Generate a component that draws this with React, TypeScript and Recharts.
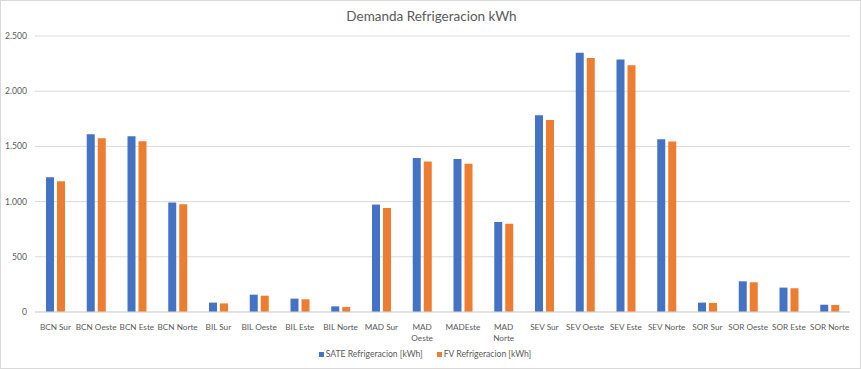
import React from "react";
import { BarChart, Bar, XAxis, YAxis, CartesianGrid, Legend } from "recharts";

const categories = [
  "BCN Sur", "BCN Oeste", "BCN Este", "BCN Norte",
  "BIL Sur", "BIL Oeste", "BIL Este", "BIL Norte",
  "MAD Sur", "MAD Oeste", "MADEste", "MAD Norte",
  "SEV Sur", "SEV Oeste", "SEV Este", "SEV Norte",
  "SOR Sur", "SOR Oeste", "SOR Este", "SOR Norte",
];
const sateValues = [
  1220, 1609, 1591, 991,
  85, 157, 121, 51,
  973, 1394, 1387, 815,
  1782, 2348, 2287, 1564,
  85, 278, 221, 66,
];
const fvValues = [
  1184, 1573, 1546, 975,
  78, 148, 115, 45,
  942, 1364, 1342, 800,
  1739, 2300, 2236, 1545,
  82, 269, 215, 64,
];
const yTicks = [0, 500, 1000, 1500, 2000, 2500];
const wrappedLabels = ["MAD Oeste", "MAD Norte"];

const SATE = "SATE Refrigeracion [kWh]";
const FV = "FV Refrigeracion [kWh]";

const data = categories.map((c, i) => ({ name: c, [SATE]: sateValues[i], [FV]: fvValues[i] }));

const FONT = "Lato, 'Open Sans', sans-serif";
const TXT = "#595959";

const fmt = (v: number) => v.toLocaleString("de-DE");

const XTick = (props: any) => {
  const { x, y, payload } = props;
  const label: string = payload.value;
  const lines = wrappedLabels.includes(label) ? label.split(" ") : [label];
  return (
    <g transform={`translate(${x},${y})`}>
      {lines.map((l, i) => (
        <text key={i} x={0} y={10 + i * 10.7} textAnchor="middle" fill={TXT} fontSize={8.2} fontFamily={FONT}>
          {l}
        </text>
      ))}
    </g>
  );
};

const LegendContent = () => (
  <div style={{ display: "flex", justifyContent: "center", fontFamily: FONT, fontSize: 8.6, color: TXT, lineHeight: "14px" }}>
    <span style={{ display: "inline-flex", alignItems: "center", marginRight: 14 }}>
      <span style={{ width: 5, height: 5, background: "#4472C4", marginRight: 2, display: "inline-block" }} />
      {SATE}
    </span>
    <span style={{ display: "inline-flex", alignItems: "center" }}>
      <span style={{ width: 5, height: 5, background: "#ED7D31", marginRight: 2, display: "inline-block" }} />
      {FV}
    </span>
  </div>
);

export default function App() {
  return (
    <div
      style={{
        position: "absolute",
        left: 0,
        top: 0,
        width: 861,
        height: 369,
        border: "1px solid #d9d9d9",
        boxSizing: "border-box",
        background: "#fff",
      }}
    >
      <div
        style={{
          position: "absolute",
          top: 7,
          left: 0,
          width: 861,
          textAlign: "center",
          fontFamily: FONT,
          fontSize: 13.5,
          color: TXT,
        }}
      >
        Demanda Refrigeracion kWh
      </div>
      <div style={{ position: "absolute", left: -1, top: -1 }}>
        <BarChart
          width={861}
          height={369}
          data={data}
          margin={{ top: 36, right: 11, left: 0, bottom: 8 }}
          barCategoryGap={11}
          barGap={3}
        >
          <CartesianGrid vertical={false} stroke="#d9d9d9" />
          <XAxis
            dataKey="name"
            interval={0}
            height={35}
            tickLine={false}
            axisLine={{ stroke: "#d9d9d9" }}
            tick={<XTick />}
          />
          <YAxis
            width={35}
            domain={[0, 2500]}
            ticks={yTicks}
            tickFormatter={fmt}
            axisLine={false}
            tickLine={false}
            tick={{ fill: TXT, fontSize: 8.6, fontFamily: FONT }}
          />
          <Legend verticalAlign="bottom" height={14} content={<LegendContent />} />
          <Bar dataKey={SATE} fill="#4472C4" isAnimationActive={false} />
          <Bar dataKey={FV} fill="#ED7D31" isAnimationActive={false} />
        </BarChart>
      </div>
    </div>
  );
}
